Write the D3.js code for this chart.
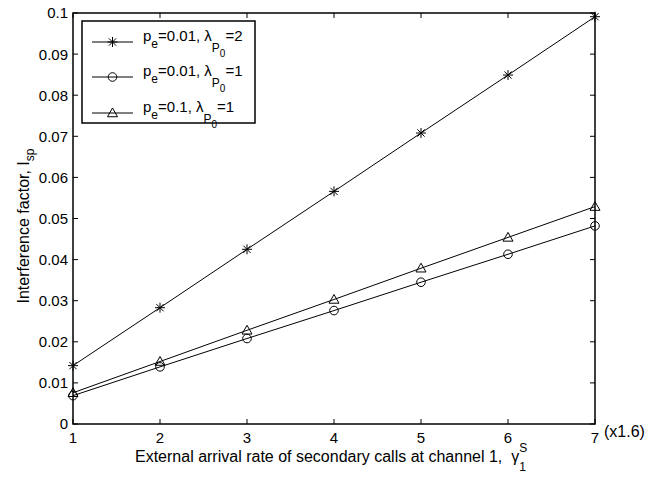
<!DOCTYPE html>
<html lang="en">
<head>
<meta charset="UTF-8">
<title>Interference factor</title>
<script src="https://d3js.org/d3.v7.min.js"></script>
<style>
    body { margin: 0; background: white; }
    svg text { font-family: "Liberation Sans", Arial, sans-serif; fill: black; white-space: pre; }
</style>
</head>
<body>
<div id="chart"></div>
<script>
    // data
    const xs = [1, 2, 3, 4, 5, 6, 7];
    const starVals = [0.0142, 0.0283, 0.0425, 0.0566, 0.0708, 0.0849, 0.0991];   // pe=0.01, lambda=2
    const circleVals = [0.0069, 0.0139, 0.0208, 0.0276, 0.0345, 0.0413, 0.0482]; // pe=0.01, lambda=1
    const triVals = [0.0076, 0.0152, 0.0228, 0.0303, 0.0379, 0.0454, 0.0529];    // pe=0.1, lambda=1
    const yTicks = [0, 0.01, 0.02, 0.03, 0.04, 0.05, 0.06, 0.07, 0.08, 0.09, 0.1];
    const yTickLabels = ["0", "0.01", "0.02", "0.03", "0.04", "0.05", "0.06", "0.07", "0.08", "0.09", "0.1"];
    const xTicks = [1, 2, 3, 4, 5, 6, 7];
    const seriesNames = [
        {pe: "0.01", lam: "2", marker: "star"},
        {pe: "0.01", lam: "1", marker: "circle"},
        {pe: "0.1", lam: "1", marker: "triangle"}
    ];

    const W = 646, H = 479;
    const plotL = 73, plotR = 595, plotT = 13, plotB = 424;

    const svg = d3.select("#chart").append("svg")
        .attr("width", W).attr("height", H);

    const x = d3.scaleLinear().domain([1, 7]).range([plotL, plotR]);
    const y = d3.scaleLinear().domain([0, 0.1]).range([plotB, plotT]);

    // draw a marker at cx, cy
    function marker(g, type, cx, cy) {
        if (type == "star") {
            const r = 5, d = 3.6;
            g.append("path")
                .attr("d", `M${cx-r},${cy}H${cx+r}M${cx},${cy-r}V${cy+r}M${cx-d},${cy-d}L${cx+d},${cy+d}M${cx-d},${cy+d}L${cx+d},${cy-d}`)
                .attr("stroke", "black").attr("stroke-width", 1).attr("fill", "none");
        } else if (type == "circle") {
            g.append("circle").attr("cx", cx).attr("cy", cy).attr("r", 4.3)
                .attr("stroke", "black").attr("stroke-width", 1).attr("fill", "none");
        } else {
            const s = 5;
            g.append("path")
                .attr("d", `M${cx},${cy-s}L${cx+s},${cy+s*0.75}L${cx-s},${cy+s*0.75}Z`)
                .attr("stroke", "black").attr("stroke-width", 1).attr("fill", "none");
        }
    }

    // ticks, both sides like a matlab box
    const tl = 5;
    const ticks = svg.append("g").attr("stroke", "black").attr("stroke-width", 1);
    yTicks.forEach(t => {
        ticks.append("line").attr("x1", plotL).attr("x2", plotL + tl).attr("y1", y(t)).attr("y2", y(t));
        ticks.append("line").attr("x1", plotR).attr("x2", plotR - tl).attr("y1", y(t)).attr("y2", y(t));
    });
    xTicks.forEach(t => {
        ticks.append("line").attr("x1", x(t)).attr("x2", x(t)).attr("y1", plotB).attr("y2", plotB - tl);
        ticks.append("line").attr("x1", x(t)).attr("x2", x(t)).attr("y1", plotT).attr("y2", plotT + tl);
    });

    // tick labels
    svg.append("g").selectAll("text").data(yTicks).join("text")
        .attr("x", plotL - 5).attr("y", d => y(d)).attr("dy", "0.36em")
        .attr("text-anchor", "end").style("font-size", "15px")
        .text((d, i) => yTickLabels[i]);
    svg.append("g").selectAll("text").data(xTicks).join("text")
        .attr("x", d => x(d)).attr("y", 443)
        .attr("text-anchor", "middle").style("font-size", "15px")
        .text(d => d);
    svg.append("text").attr("x", 604).attr("y", 437).style("font-size", "16px").text("(x1.6)");

    // lines + markers
    const allSeries = [starVals, circleVals, triVals];
    const line = d3.line().x((d, i) => x(xs[i])).y(d => y(d));
    allSeries.forEach((vals, k) => {
        svg.append("path").datum(vals).attr("d", line)
            .attr("fill", "none").attr("stroke", "black").attr("stroke-width", 1);
        const g = svg.append("g");
        vals.forEach((v, i) => marker(g, seriesNames[k].marker, x(xs[i]), y(v)));
    });

    // axes box
    svg.append("rect").attr("x", plotL).attr("y", plotT)
        .attr("width", plotR - plotL).attr("height", plotB - plotT)
        .attr("fill", "none").attr("stroke", "black").attr("stroke-width", 1.5);

    // axis labels
    const xl = svg.append("text").attr("x", 135).attr("y", 462)
        .style("font-size", "16px");
    xl.append("tspan").text("External arrival rate of secondary calls at channel 1,  \u03b3");
    xl.append("tspan").attr("dy", -10).style("font-size", "12px").text("S");
    xl.append("tspan").attr("dx", -8).attr("dy", 19).style("font-size", "12px").text("1");

    const yl = svg.append("text")
        .attr("transform", "translate(29,226) rotate(-90)")
        .attr("text-anchor", "middle").style("font-size", "16px");
    yl.append("tspan").text("Interference factor, I");
    yl.append("tspan").attr("dy", 5).style("font-size", "12px").text("sp");

    // legend
    const leg = svg.append("g");
    leg.append("rect").attr("x", 82).attr("y", 21).attr("width", 173).attr("height", 102)
        .attr("fill", "white").attr("stroke", "black").attr("stroke-width", 1.5);
    const rowY = [42, 77, 113];
    seriesNames.forEach((s, i) => {
        const ly = rowY[i];
        leg.append("line").attr("x1", 92).attr("x2", 133).attr("y1", ly).attr("y2", ly)
            .attr("stroke", "black").attr("stroke-width", 1);
        marker(leg, s.marker, 112.5, ly);
        const t = leg.append("text").attr("x", 143).attr("y", ly - 1).style("font-size", "15px");
        t.append("tspan").text("p");
        t.append("tspan").attr("dy", 7).style("font-size", "12px").text("e");
        t.append("tspan").attr("dy", -7).text("=" + s.pe + ", \u03bb");
        t.append("tspan").attr("dy", 11).style("font-size", "12px").text("P");
        t.append("tspan").attr("dy", 5).style("font-size", "10px").text("0");
        t.append("tspan").attr("dy", -16).text("=" + s.lam);
    });
</script>
</body>
</html>
